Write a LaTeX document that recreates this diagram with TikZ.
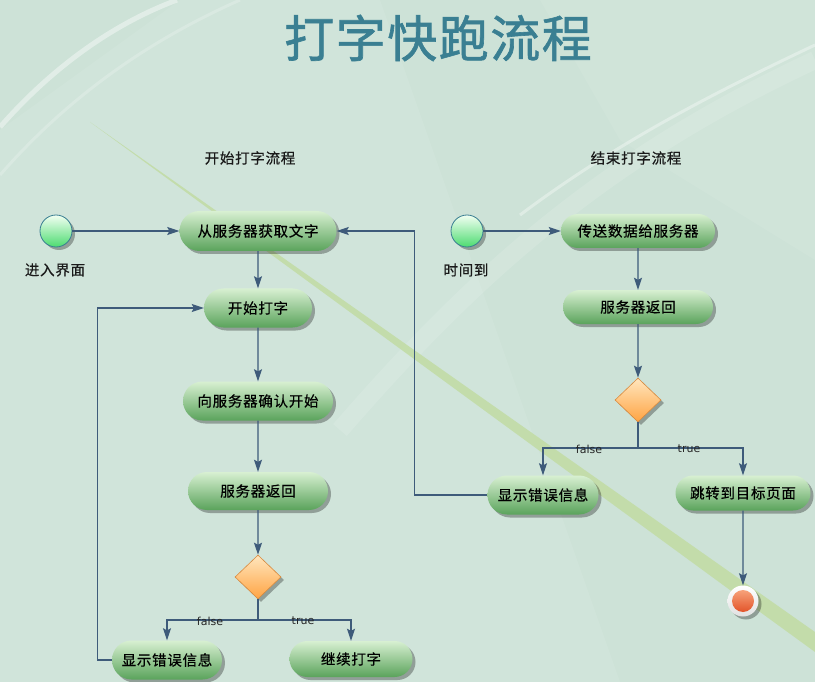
\documentclass[tikz,border=0pt]{standalone}
\usepackage{fontspec}
\newfontfamily\cjk[LetterSpace=5,FakeBold=0.5]{Noto Sans CJK SC}
\newfontfamily\ttlfont[LetterSpace=3,FakeBold=1.2]{Noto Sans CJK SC}
\newfontfamily\lab{DejaVu Sans}
\usetikzlibrary{shapes.geometric,shapes.misc,shadows,arrows.meta}
\definecolor{bg}{HTML}{CDE2D7}
\definecolor{lnk}{HTML}{3E5B7A}
\definecolor{ttl}{HTML}{3A7F92}
\definecolor{ntop}{HTML}{D8F0D2}
\definecolor{nmid}{HTML}{A8D49E}
\definecolor{nbot}{HTML}{5AA35B}
\definecolor{band}{HTML}{C2DCA6}
\definecolor{etop}{HTML}{F7A27A}
\definecolor{ebot}{HTML}{E2542A}
\definecolor{dtop}{HTML}{FFE6BE}
\definecolor{dbot}{HTML}{FFA443}
\definecolor{ddraw}{HTML}{D88A3E}
\tikzset{
  shad/.style={drop shadow={shadow xshift=3pt,shadow yshift=-3pt,opacity=0.3,fill=black}},
  act/.style={rounded rectangle, shad, top color=ntop, middle color=nmid, bottom color=nbot,
    font=\cjk\fontsize{14.5}{15}\selectfont, text=black, inner sep=0pt, minimum height=39pt},
  startc/.style={circle, shad, top color=green!5!white, bottom color=green!60!teal!70!white,
    draw=ttl, line width=0.8pt, minimum size=32pt, inner sep=0pt},
  dec/.style={diamond, shad, top color=dtop, bottom color=dbot,
    draw=ddraw, line width=0.6pt, minimum width=46pt, minimum height=44pt, inner sep=0pt},
  hdr/.style={font=\cjk\fontsize{14.5}{15}\selectfont, text=black!90, inner sep=0pt},
  tf/.style={font=\lab\fontsize{11}{12}\selectfont, text=black!85, inner sep=0pt},
  arr/.style={draw=lnk, line width=1.3pt, -{Stealth[length=12pt,width=8pt,inset=2pt]}},
  lin/.style={draw=lnk, line width=1.3pt}
}
\begin{document}
\begin{tikzpicture}[x=1pt,y=-1pt]
\useasboundingbox (0,0) rectangle (815,682);
% background
\fill[bg] (0,0) rectangle (815,682);
\fill[white,opacity=0.08] (0,130) -- (180,0) -- (380,0) -- (620,682) -- (0,682) -- cycle;
\fill[white,opacity=0.07] (540,0) -- (815,0) -- (815,260) -- (620,140) -- cycle;
\draw[white,opacity=0.4,line width=5pt] (0,127) .. controls (50,70) and (110,25) .. (177,0);
\draw[white,opacity=0.2,line width=3pt] (0,175) .. controls (70,95) and (150,40) .. (240,0);
\draw[white,opacity=0.12,line width=18pt] (340,430) .. controls (470,280) and (600,160) .. (815,60);
\draw[white,opacity=0.35,line width=3pt] (520,215) .. controls (620,140) and (720,90) .. (815,45);
\fill[band,opacity=0.9] (90,122) -- (815,632) -- (815,652) -- (760,612) -- cycle;
% title and headers
\node[font=\ttlfont\fontsize{50}{52}\selectfont, text=ttl, inner sep=0pt] (title) at (438,38) {打字快跑流程};
\node[hdr] (h1) at (250,158) {开始打字流程};
\node[hdr] (h2) at (636,158) {结束打字流程};
% left flow
\node[startc] (s1) at (56,231) {};
\node[hdr] (s1l) at (55,270) {进入界面};
\node[act,minimum width=157pt,minimum height=40pt] (A) at (258,231) {从服务器获取文字};
\node[act,minimum width=108pt] (B) at (258,308) {开始打字};
\node[act,minimum width=150pt] (C) at (258,401) {向服务器确认开始};
\node[act,minimum width=140pt,minimum height=38pt] (D) at (258,491) {服务器返回};
\node[dec] (d1) at (258,577) {};
\coordinate (j1) at (258,620);
\node[act,minimum width=110pt] (E) at (167,660) {显示错误信息};
\node[act,minimum width=123pt,minimum height=36pt] (F) at (351,659) {继续打字};
% right flow
\node[startc] (s2) at (467,231) {};
\node[hdr] (s2l) at (466,270) {时间到};
\node[act,minimum width=154pt,minimum height=34pt] (G) at (638,231) {传送数据给服务器};
\node[act,minimum width=150pt,minimum height=34pt] (H) at (638,307) {服务器返回};
\node[dec] (d2) at (638,400) {};
\coordinate (j2) at (638,448);
\node[act,minimum width=111pt] (I) at (543,495) {显示错误信息};
\node[act,minimum width=135pt,minimum height=35pt] (J) at (743,493) {跳转到目标页面};
\node[circle, shad, top color=white, bottom color=black!12, minimum size=31pt, inner sep=0pt] (end) at (743,601) {};
\node[circle, top color=etop, bottom color=ebot, minimum size=22pt, inner sep=0pt] (endin) at (end.center) {};
% connectors
\draw[arr] (s1) -- (A);
\draw[arr] (A) -- (B);
\draw[arr] (B) -- (C);
\draw[arr] (C) -- (D);
\draw[arr] (D) -- (d1);
\draw[lin] (d1.south) -- (j1);
\draw[arr] (j1) -| (E.north);
\draw[arr] (j1) -| (F.north);
\draw[arr] (E.west) -- ++(-14,0) |- (B.west);
\node[tf] (fl1) at (210,621) {false};
\node[tf] (tr1) at (303,621) {true};
\draw[arr] (s2) -- (G);
\draw[arr] (G) -- (H);
\draw[arr] (H) -- (d2);
\draw[lin] (d2.south) -- (j2);
\draw[arr] (j2) -| (I.north);
\draw[arr] (j2) -| (J.north);
\draw[arr] (J) -- (end);
\draw[arr] (I.west) -- ++(-73,0) |- (A.east);
\node[tf] (fl2) at (589,449) {false};
\node[tf] (tr2) at (689,449) {true};
\end{tikzpicture}
\end{document}
